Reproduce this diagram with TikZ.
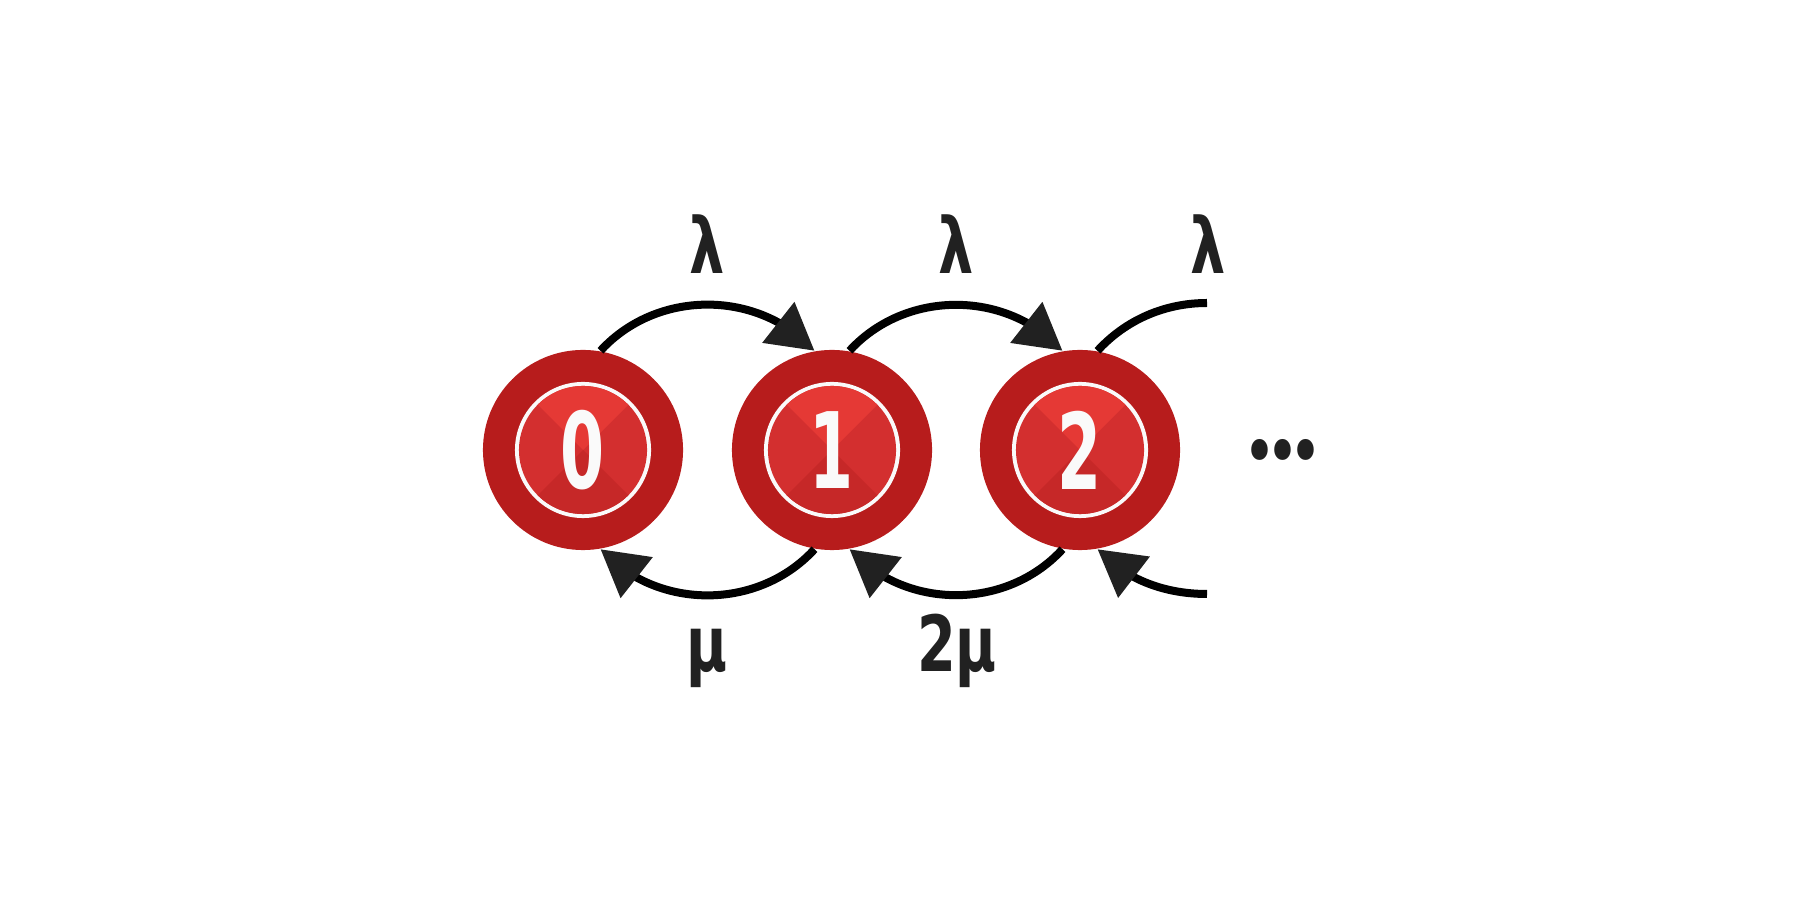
\documentclass[tikz,border=0pt]{standalone}
\usepackage{fontspec}
\usetikzlibrary{arrows.meta,bending}
\newfontfamily\dvfont{DejaVu Sans}[FakeStretch=0.6]
\newfontfamily\lblfont{DejaVu Sans}[FakeStretch=0.72]
\newfontfamily\dotfont{Poppins}[FakeStretch=0.72]
\definecolor{ringred}{HTML}{B71C1C}
\definecolor{qtop}{HTML}{E53935}
\definecolor{qside}{HTML}{D32F2F}
\definecolor{qbot}{HTML}{C62828}
\definecolor{digitw}{HTML}{FAFAFA}
\definecolor{ink}{HTML}{212121}
\tikzset{
  state/.style={circle, minimum size=2cm, inner sep=0pt, fill=ringred,
    text=digitw, font=\dvfont\bfseries\fontsize{30}{30}\selectfont,
    path picture={
      \coordinate (pc) at (path picture bounding box.center);
      \fill[digitw] (pc) circle[radius=0.68cm];
      \begin{scope}
        \clip (pc) circle[radius=0.64cm];
        \fill[qside] (pc) circle[radius=0.7cm];
        \fill[qtop] (pc) -- +(-1cm,1cm) -- +(1cm,1cm) -- cycle;
        \fill[qbot] (pc) -- +(-1cm,-1cm) -- +(1cm,-1cm) -- cycle;
      \end{scope}
    }},
  rate/.style={anchor=base, text=ink, inner sep=0pt,
    font=\lblfont\bfseries\fontsize{22}{22}\selectfont},
  link/.style={line width=0.08cm, black,
    -{Triangle[length=0.46cm, width=0.5cm, color=ink]}},
  openlink/.style={line width=0.08cm, black},
}
\begin{document}
\begin{tikzpicture}[x=0.01cm, y=0.01cm]
  \useasboundingbox (0,0) rectangle (1800,900);
  \node[state] (n0) at (583,450) {0};
  \node[state] (n1) at (832,450) {1};
  \node[state] (n2) at (1080,450) {2};
  \coordinate (e1) at (1207,597);
  \coordinate (e2) at (1207,306);
  % forward arcs
  \draw[link] (n0.80) to[out=47.5, in=132.5] (n1.100);
  \draw[link] (n1.80) to[out=47.5, in=132.5] (n2.100);
  \draw[openlink] (n2.80) to[out=47.5, in=180, looseness=0.9] (e1);
  % backward arcs
  \draw[link] (n1.260) to[out=227.5, in=-47.5] (n0.280);
  \draw[link] (n2.260) to[out=227.5, in=-47.5] (n1.280);
  \draw[link] (e2) to[out=180, in=-47.5, looseness=0.9] (n2.280);
  % labels
  \node[rate] (l0) at (707,626) {λ};
  \node[rate] (l1) at (956,626) {λ};
  \node[rate] (l2) at (1208,626) {λ};
  \node[rate] (m0) at (707,228) {μ};
  \node[rate] (m1) at (957,228) {2μ};
  \node[text=ink, inner sep=0pt, font=\dotfont\bfseries\fontsize{32}{32}\selectfont] (dots) at (1283,450) {...};
\end{tikzpicture}
\end{document}
